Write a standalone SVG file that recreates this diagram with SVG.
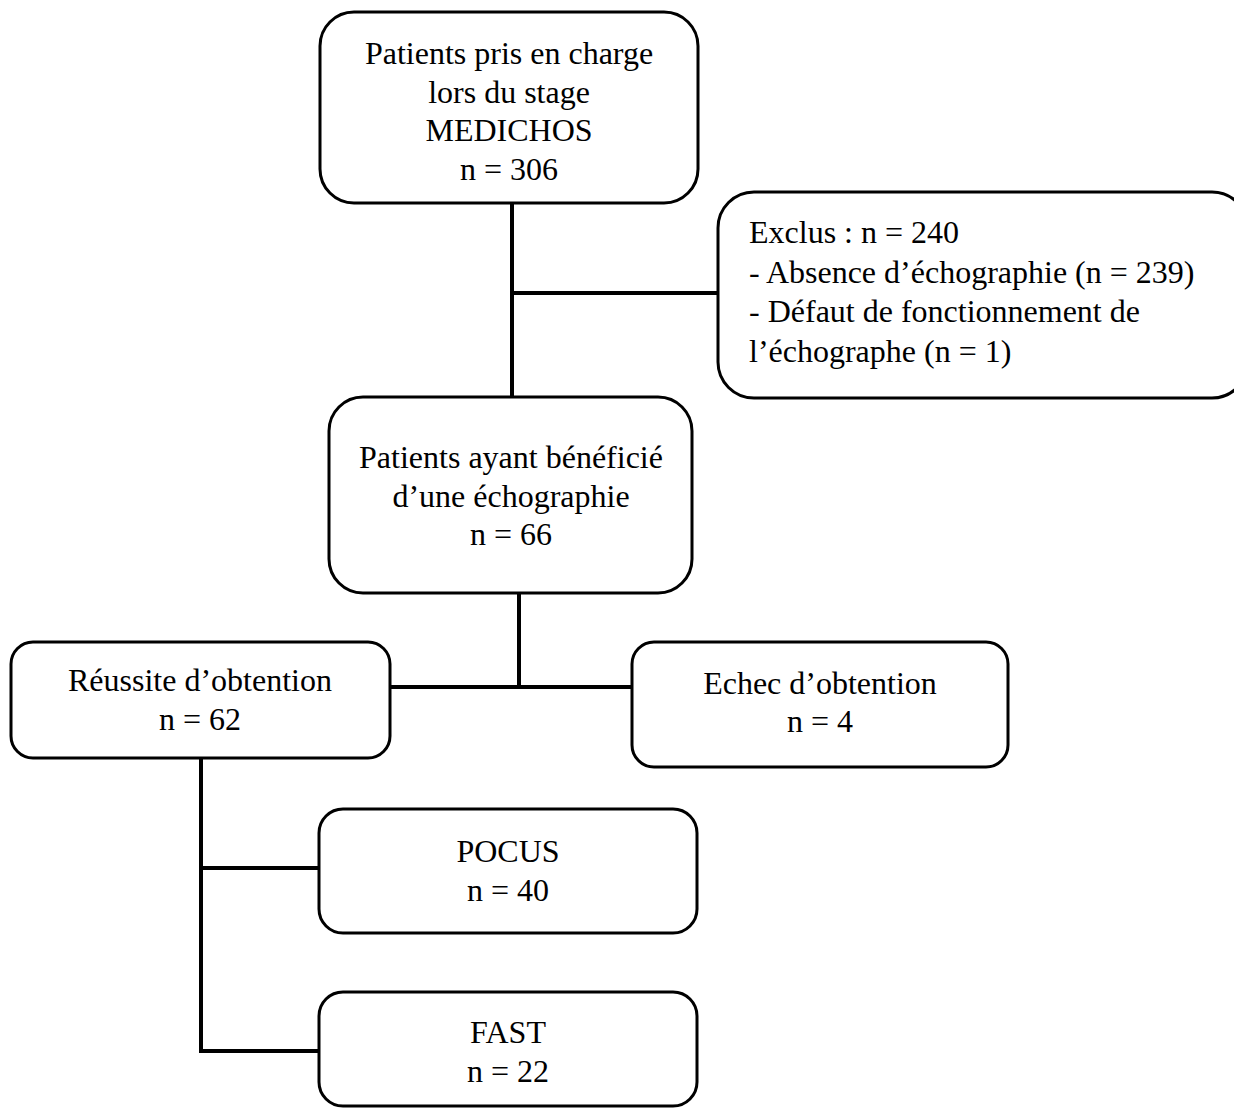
<svg xmlns="http://www.w3.org/2000/svg" width="1234" height="1108" viewBox="0 0 1234 1108">
<style>
.box{fill:#fff;stroke:#000;stroke-width:3}
.t{font-family:"Liberation Serif","Times New Roman",serif;font-size:32px;fill:#000}
.c{text-anchor:middle}
.ln{stroke:#000;stroke-width:4;fill:none}
</style>
<rect x="0" y="0" width="1234" height="1108" fill="#fff"/>
<g id="connectors">
<line class="ln" x1="512" y1="203" x2="512" y2="398"/>
<line class="ln" x1="510" y1="293" x2="719" y2="293"/>
<line class="ln" x1="519" y1="593" x2="519" y2="688"/>
<line class="ln" x1="390" y1="687" x2="632" y2="687"/>
<line class="ln" x1="201" y1="758" x2="201" y2="1053"/>
<line class="ln" x1="199" y1="868" x2="320" y2="868"/>
<line class="ln" x1="199" y1="1051" x2="320" y2="1051"/>
</g>
<g id="n1">
<rect class="box" x="320" y="12" width="378" height="191" rx="34"/>
<text class="t c" x="509" y="64">Patients pris en charge</text>
<text class="t c" x="509" y="103">lors du stage</text>
<text class="t c" x="509" y="141">MEDICHOS</text>
<text class="t c" x="509" y="180">n = 306</text>
</g>
<g id="n2">
<rect class="box" x="718" y="192" width="530" height="206" rx="36"/>
<text class="t" x="749" y="243">Exclus : n = 240</text>
<text class="t" x="749" y="283">- Absence d’échographie (n = 239)</text>
<text class="t" x="749" y="322">- Défaut de fonctionnement de</text>
<text class="t" x="749" y="362">l’échographe (n = 1)</text>
</g>
<g id="n3">
<rect class="box" x="329" y="397" width="363" height="196" rx="34"/>
<text class="t c" x="511" y="468">Patients ayant bénéficié</text>
<text class="t c" x="511" y="507">d’une échographie</text>
<text class="t c" x="511" y="545">n = 66</text>
</g>
<g id="n4">
<rect class="box" x="11" y="642" width="379" height="116" rx="22"/>
<text class="t c" x="200" y="691">Réussite d’obtention</text>
<text class="t c" x="200" y="730">n = 62</text>
</g>
<g id="n5">
<rect class="box" x="632" y="642" width="376" height="125" rx="22"/>
<text class="t c" x="820" y="694">Echec d’obtention</text>
<text class="t c" x="820" y="732">n = 4</text>
</g>
<g id="n6">
<rect class="box" x="319" y="809" width="378" height="124" rx="24"/>
<text class="t c" x="508" y="862">POCUS</text>
<text class="t c" x="508" y="901">n = 40</text>
</g>
<g id="n7">
<rect class="box" x="319" y="992" width="378" height="114" rx="24"/>
<text class="t c" x="508" y="1043">FAST</text>
<text class="t c" x="508" y="1082">n = 22</text>
</g>
</svg>
